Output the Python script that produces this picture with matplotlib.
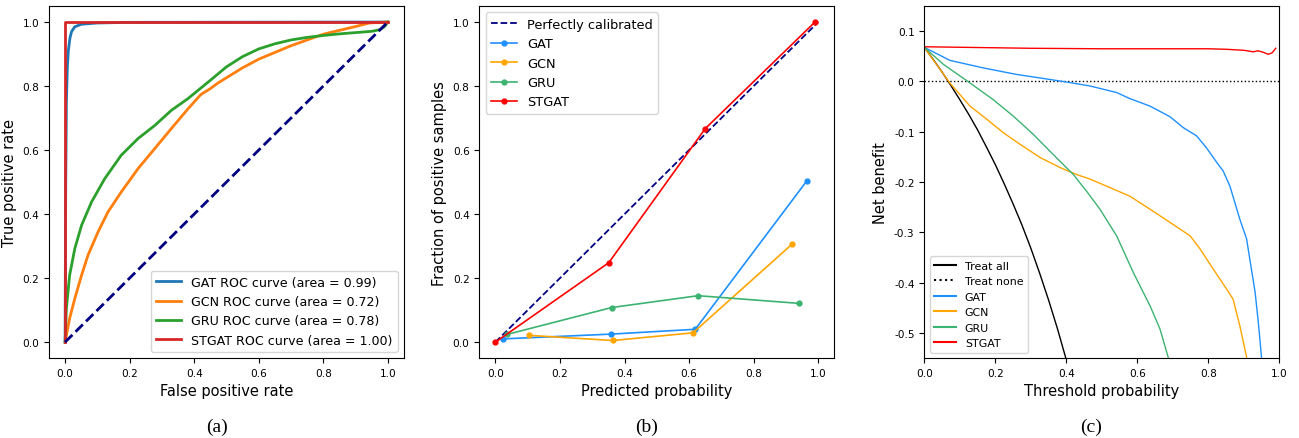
"""
ROC curves, calibration curves and decision curves for GAT, GCN, GRU and STGAT.
"""
import matplotlib
matplotlib.use('Agg')
from matplotlib import pyplot as plt

# (a) ROC curves
gat_fpr = [0.0, 0.001, 0.002, 0.004, 0.007, 0.01, 0.015, 0.02, 0.03, 0.05, 0.1, 0.2, 1.0]
gat_tpr = [0.0, 0.3, 0.5, 0.75, 0.86, 0.91, 0.95, 0.97, 0.985, 0.993, 0.997, 0.999, 1.0]

gcn_fpr = [0.0, 0.014, 0.030, 0.051, 0.071, 0.102, 0.133, 0.174, 0.226, 0.278, 0.329, 0.381,
           0.42, 0.45, 0.47, 0.5, 0.55, 0.6, 0.7, 0.8, 0.9, 0.943, 1.0]
gcn_tpr = [0.0, 0.074, 0.136, 0.209, 0.272, 0.344, 0.407, 0.469, 0.542, 0.605, 0.667, 0.729,
           0.773, 0.792, 0.807, 0.826, 0.857, 0.884, 0.926, 0.962, 0.986, 0.997, 1.0]

gru_fpr = [0.0, 0.004, 0.014, 0.030, 0.051, 0.082, 0.123, 0.174, 0.226, 0.278, 0.329, 0.381,
           0.45, 0.5, 0.55, 0.6, 0.65, 0.7, 0.75, 0.8, 0.85, 0.9, 0.95, 0.975, 0.99, 1.0]
gru_tpr = [0.0, 0.105, 0.209, 0.292, 0.365, 0.438, 0.511, 0.584, 0.636, 0.677, 0.724, 0.761,
           0.818, 0.860, 0.892, 0.916, 0.932, 0.944, 0.952, 0.958, 0.963, 0.967, 0.971, 0.976,
           0.986, 1.0]

stgat_fpr = [0.0, 0.0, 1.0]
stgat_tpr = [0.0, 1.0, 1.0]

roc_auc = {'GAT': 0.99, 'GCN': 0.72, 'GRU': 0.78, 'STGAT': 1.00}

# (b) calibration curves
cal_gat_x = [0.023, 0.359, 0.619, 0.965]
cal_gat_y = [0.010, 0.025, 0.040, 0.504]
cal_gcn_x = [0.105, 0.364, 0.612, 0.919]
cal_gcn_y = [0.021, 0.005, 0.029, 0.306]
cal_gru_x = [0.036, 0.360, 0.628, 0.940]
cal_gru_y = [0.024, 0.108, 0.145, 0.121]
cal_stgat_x = [0.0, 0.351, 0.650, 0.990]
cal_stgat_y = [0.0, 0.248, 0.667, 1.0]

# (c) decision curves
treat_all_x = [0.0, 0.025, 0.05, 0.075, 0.1, 0.125, 0.15, 0.175, 0.2, 0.225, 0.25, 0.275,
               0.3, 0.325, 0.35, 0.375, 0.4, 0.42]
treat_all_y = [0.068, 0.044, 0.019, -0.008, -0.036, -0.065, -0.096, -0.130, -0.165, -0.203,
               -0.243, -0.285, -0.331, -0.381, -0.434, -0.491, -0.553, -0.607]

dca_gat_x = [0.0, 0.072, 0.166, 0.26, 0.354, 0.40, 0.467, 0.542, 0.579, 0.636, 0.692, 0.730,
             0.767, 0.795, 0.824, 0.842, 0.861, 0.889, 0.908, 0.917, 0.932, 0.941, 0.950, 0.955]
dca_gat_y = [0.068, 0.042, 0.027, 0.014, 0.004, -0.001, -0.009, -0.022, -0.034, -0.049, -0.070,
             -0.092, -0.108, -0.132, -0.161, -0.178, -0.208, -0.274, -0.313, -0.353, -0.419,
             -0.479, -0.548, -0.6]

dca_gcn_x = [0.0, 0.072, 0.129, 0.176, 0.223, 0.27, 0.326, 0.382, 0.429, 0.467, 0.523, 0.579,
             0.636, 0.692, 0.749, 0.777, 0.814, 0.833, 0.852, 0.870, 0.889, 0.908, 0.912]
dca_gcn_y = [0.068, -0.003, -0.049, -0.075, -0.102, -0.125, -0.151, -0.171, -0.185, -0.194,
             -0.211, -0.228, -0.254, -0.280, -0.307, -0.333, -0.373, -0.393, -0.413, -0.433,
             -0.486, -0.548, -0.6]

dca_gru_x = [0.0, 0.054, 0.129, 0.194, 0.251, 0.307, 0.363, 0.42, 0.457, 0.495, 0.542, 0.589,
             0.636, 0.664, 0.687, 0.70]
dca_gru_y = [0.068, 0.034, -0.003, -0.036, -0.069, -0.105, -0.145, -0.185, -0.218, -0.254,
             -0.307, -0.380, -0.446, -0.492, -0.548, -0.58]

dca_stgat_x = [0.0, 0.1, 0.3, 0.5, 0.8, 0.85, 0.9, 0.927, 0.94, 0.955, 0.969, 0.98, 0.99]
dca_stgat_y = [0.069, 0.068, 0.066, 0.065, 0.065, 0.064, 0.062, 0.059, 0.061, 0.058, 0.054,
               0.057, 0.066]


def main():
    plt.rcParams['axes.unicode_minus'] = False

    fig = plt.figure(figsize=(12.99, 4.39), dpi=100)
    ax_a = fig.add_axes([0.0377, 0.182, 0.2733, 0.802])
    ax_b = fig.add_axes([0.369, 0.182, 0.2733, 0.802])
    ax_c = fig.add_axes([0.7115, 0.182, 0.2733, 0.802])

    tick_size = 7.6
    label_size = 10.5

    # PANEL (a): ROC CURVES. #
    ax_a.plot(gat_fpr, gat_tpr, color='tab:blue', lw=2,
              label='GAT ROC curve (area = %0.2f)' % roc_auc['GAT'])
    ax_a.plot(gcn_fpr, gcn_tpr, color='tab:orange', lw=2,
              label='GCN ROC curve (area = %0.2f)' % roc_auc['GCN'])
    ax_a.plot(gru_fpr, gru_tpr, color='tab:green', lw=2,
              label='GRU ROC curve (area = %0.2f)' % roc_auc['GRU'])
    ax_a.plot(stgat_fpr, stgat_tpr, color='tab:red', lw=2,
              label='STGAT ROC curve (area = %0.2f)' % roc_auc['STGAT'])
    ax_a.plot([0, 1], [0, 1], color='navy', lw=2, linestyle='--')
    ax_a.set_xlabel('False positive rate', fontsize=label_size)
    ax_a.set_ylabel('True positive rate', fontsize=label_size)
    ax_a.tick_params(labelsize=tick_size)
    ax_a.legend(loc='lower right', fontsize=9.1)

    # PANEL (b): CALIBRATION CURVES. #
    ax_b.plot([0, 1], [0, 1], color='navy', linestyle='--', lw=1.3, label='Perfectly calibrated')
    ax_b.plot(cal_gat_x, cal_gat_y, marker='o', ms=3.5, lw=1.2, color='dodgerblue', label='GAT')
    ax_b.plot(cal_gcn_x, cal_gcn_y, marker='o', ms=3.5, lw=1.2, color='orange', label='GCN')
    ax_b.plot(cal_gru_x, cal_gru_y, marker='o', ms=3.5, lw=1.2, color='mediumseagreen', label='GRU')
    ax_b.plot(cal_stgat_x, cal_stgat_y, marker='o', ms=3.5, lw=1.2, color='red', label='STGAT')
    ax_b.set_xlabel('Predicted probability', fontsize=label_size)
    ax_b.set_ylabel('Fraction of positive samples', fontsize=label_size)
    ax_b.tick_params(labelsize=tick_size)
    ax_b.legend(loc='upper left', fontsize=9.3)

    # PANEL (c): DECISION CURVES. #
    ax_c.plot(treat_all_x, treat_all_y, color='black', lw=1, label='Treat all')
    ax_c.axhline(0, color='black', linestyle=':', lw=1, label='Treat none')
    ax_c.plot(dca_gat_x, dca_gat_y, color='dodgerblue', lw=1, label='GAT')
    ax_c.plot(dca_gcn_x, dca_gcn_y, color='orange', lw=1, label='GCN')
    ax_c.plot(dca_gru_x, dca_gru_y, color='mediumseagreen', lw=1, label='GRU')
    ax_c.plot(dca_stgat_x, dca_stgat_y, color='red', lw=1, label='STGAT')
    ax_c.set_xlim(0, 1)
    ax_c.set_ylim(-0.55, 0.15)
    ax_c.set_xlabel('Threshold probability', fontsize=label_size)
    ax_c.set_ylabel('Net benefit', fontsize=label_size)
    ax_c.tick_params(labelsize=tick_size)
    leg = ax_c.legend(loc='lower left', fontsize=7.9)
    for line in leg.get_lines():
        line.set_linewidth(1.5)

    # SUBFIGURE CAPTIONS. #
    for x, caption in zip([0.1668, 0.4978, 0.8396], ['(a)', '(b)', '(c)']):
        fig.text(x, 0.027, caption, ha='center', va='center', fontsize=14,
                 family='Liberation Serif')

    fig.savefig('out.png', dpi=100)


if __name__ == '__main__':
    main()
